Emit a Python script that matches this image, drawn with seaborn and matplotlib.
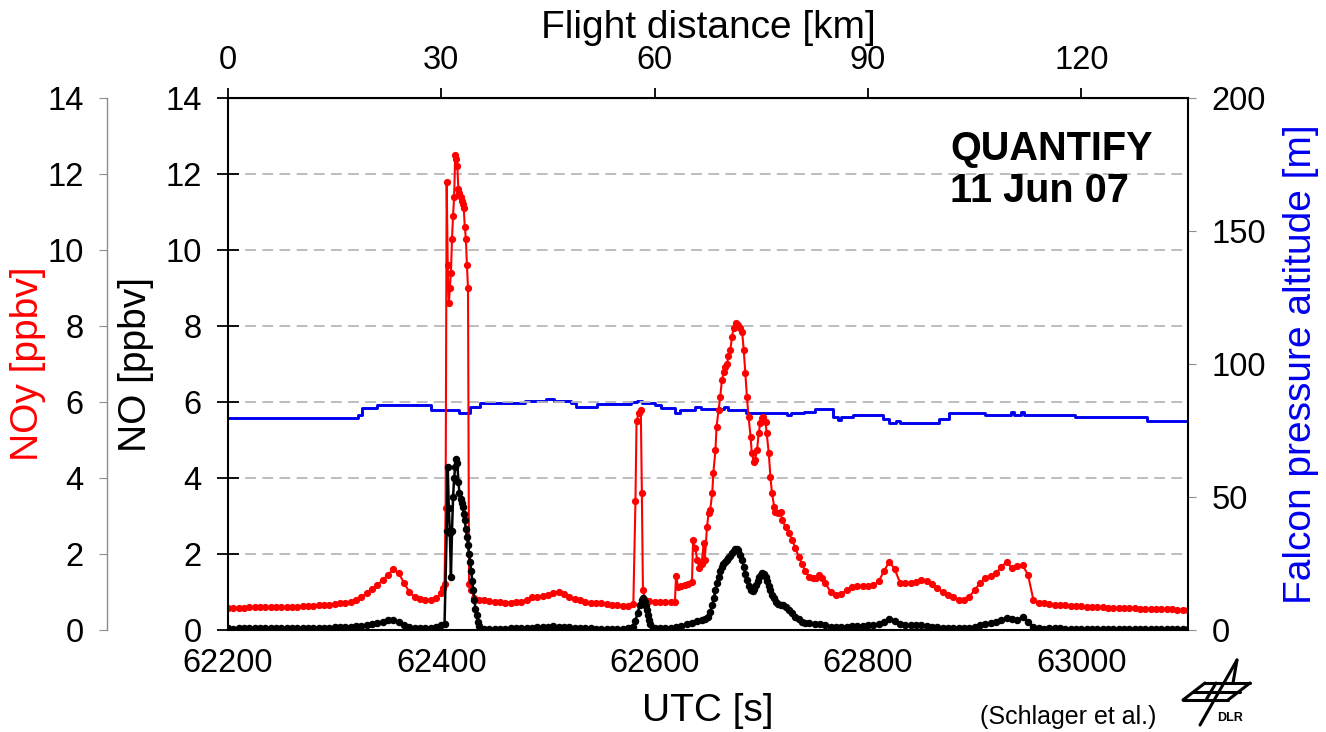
import numpy as np
import matplotlib
matplotlib.use('Agg')
import matplotlib.pyplot as plt
from matplotlib.lines import Line2D
import seaborn as sns

# ---- values ----
# NOy [ppbv] (red), pieces on a 5 s grid plus the plume spikes
noy_t1 = np.arange(62200, 62401, 5)
noy_v1 = [0.58, 0.58, 0.59, 0.59, 0.60, 0.60, 0.60, 0.60, 0.61, 0.61, 0.61, 0.60, 0.60, 0.61,
          0.62, 0.63, 0.64, 0.65, 0.66, 0.67, 0.68, 0.70, 0.72, 0.75, 0.79, 0.86, 0.97, 1.07,
          1.18, 1.31, 1.45, 1.60, 1.50, 1.24, 1.00, 0.87, 0.81, 0.79, 0.79, 0.84, 0.97]
noy_t2 = [62402, 62403, 62404, 62405, 62406, 62407, 62408, 62409, 62410, 62411, 62412, 62413,
          62414, 62415, 62416, 62417, 62418, 62419, 62420, 62421, 62422, 62423, 62424, 62425,
          62426, 62428, 62431]
noy_v2 = [1.10, 1.20, 3.2, 11.8, 9.6, 8.6, 9.0, 9.4, 10.3, 10.9, 11.4, 12.5,
          12.4, 12.2, 11.6, 11.5, 11.4, 11.3, 11.2, 11.1, 10.6, 10.3, 9.6, 9.0,
          1.2, 1.05, 0.84]
noy_t3 = np.arange(62435, 62581, 5)
noy_v3 = [0.80, 0.78, 0.76, 0.74, 0.73, 0.72, 0.72, 0.73, 0.75, 0.79, 0.87, 0.88, 0.89, 0.93,
          0.97, 1.00, 0.94, 0.87, 0.81, 0.78, 0.75, 0.72, 0.71, 0.70, 0.68, 0.67, 0.65, 0.64,
          0.64, 0.68]
noy_t4 = [62582, 62583, 62585, 62587, 62588, 62589, 62591, 62595, 62600, 62605, 62610, 62615, 62619]
noy_v4 = [3.4, 5.5, 5.7, 5.8, 3.6, 1.05, 0.80, 0.76, 0.74, 0.73, 0.73, 0.74, 0.74]
noy_t5 = [62620, 62622, 62625, 62628, 62631, 62635, 62636, 62638, 62640, 62642, 62644, 62646,
          62647, 62649, 62650.5, 62652, 62654, 62655, 62657, 62658, 62660, 62661.5, 62663, 62665,
          62666, 62668, 62669, 62671, 62672.5, 62674, 62676, 62678, 62680, 62682, 62683.5, 62685,
          62686.5, 62688, 62690, 62691, 62693, 62694, 62696, 62697.5, 62699, 62700.5, 62702, 62704,
          62705, 62707, 62708.5, 62710, 62712, 62713, 62716, 62718, 62719.5, 62723, 62726, 62729,
          62732, 62735, 62738, 62741, 62745, 62748, 62751, 62754, 62757, 62760]
noy_v5 = [1.42, 1.14, 1.15, 1.18, 1.22, 1.27, 2.37, 2.15, 1.84, 1.63, 1.75, 2.28,
          1.84, 2.70, 3.07, 3.16, 3.60, 4.13, 4.74, 5.35, 5.79, 6.14, 6.58, 6.80,
          6.93, 7.00, 7.20, 7.37, 7.72, 7.94, 8.07, 8.03, 7.94, 7.85, 7.37, 6.76,
          6.14, 5.61, 5.08, 4.65, 4.43, 4.47, 4.74, 5.18, 5.44, 5.58, 5.61, 5.48,
          5.18, 4.65, 4.03, 3.60, 3.25, 3.10, 3.07, 3.10, 2.90, 2.70, 2.54, 2.37,
          2.15, 1.93, 1.75, 1.55, 1.40, 1.38, 1.36, 1.44, 1.36, 1.23]
noy_t6 = np.arange(62765, 63101, 5)
noy_v6 = [1.00, 0.93, 0.95, 1.05, 1.12, 1.15, 1.16, 1.17, 1.18, 1.28, 1.55, 1.80, 1.60, 1.25,
          1.23, 1.25, 1.27, 1.32, 1.30, 1.22, 1.10, 1.00, 0.93, 0.86, 0.80, 0.80, 0.88, 1.05,
          1.23, 1.38, 1.43, 1.50, 1.65, 1.80, 1.62, 1.68, 1.71, 1.45, 0.80, 0.72, 0.70, 0.68,
          0.67, 0.66, 0.65, 0.64, 0.63, 0.62, 0.61, 0.61, 0.60, 0.60, 0.59, 0.59, 0.58, 0.58,
          0.57, 0.57, 0.56, 0.56, 0.55, 0.55, 0.54, 0.54, 0.54, 0.53, 0.53, 0.53]

# NO [ppbv] (black)
no_t1 = np.arange(62200, 62401, 5)
no_v1 = [0.04, 0.03, 0.04, 0.05, 0.04, 0.04, 0.04, 0.04, 0.04, 0.04, 0.04, 0.04, 0.04, 0.04,
         0.04, 0.05, 0.05, 0.05, 0.06, 0.06, 0.07, 0.08, 0.08, 0.09, 0.10, 0.11, 0.13, 0.15,
         0.18, 0.22, 0.26, 0.26, 0.20, 0.14, 0.09, 0.06, 0.05, 0.05, 0.06, 0.08, 0.12]
no_t2 = [62403, 62405, 62406, 62407, 62408, 62409, 62410, 62411, 62412, 62413, 62414, 62415,
         62416, 62417, 62418, 62419, 62420, 62421, 62422, 62423, 62424, 62425, 62426, 62427,
         62428, 62429, 62430, 62431, 62432, 62433, 62434, 62435, 62436]
no_v2 = [0.15, 2.6, 4.3, 3.2, 2.55, 1.4, 2.6, 3.5, 4.0, 4.3, 4.5, 4.4,
         3.9, 3.6, 3.45, 3.35, 3.25, 3.05, 2.9, 2.65, 2.45, 2.25, 2.0, 1.8,
         1.55, 1.3, 1.05, 0.8, 0.55, 0.4, 0.22, 0.1, 0.03]
no_t3 = np.arange(62440, 62576, 5)
no_v3 = [0.03, 0.03, 0.03, 0.03, 0.03, 0.04, 0.04, 0.05, 0.05, 0.06, 0.07, 0.08, 0.09, 0.10,
         0.09, 0.08, 0.07, 0.06, 0.05, 0.04, 0.04, 0.03, 0.03, 0.03, 0.03, 0.03, 0.03, 0.04]
no_t4 = [62578, 62580, 62582, 62584, 62586, 62588, 62589, 62590, 62591, 62592, 62593, 62594,
         62595, 62596, 62598, 62600, 62605, 62610, 62615, 62620, 62625, 62630, 62635, 62640,
         62644, 62647, 62650, 62652, 62654, 62655.5, 62657, 62658.5, 62660, 62661.5, 62663,
         62664.5, 62666, 62667.5, 62669, 62671, 62672.5, 62674, 62675.5, 62677, 62678.5, 62680,
         62682, 62683.5, 62685, 62686.5, 62688, 62690, 62692, 62693.5, 62695, 62696.5, 62698,
         62699.5, 62701, 62702.5, 62704, 62705.5, 62707, 62708.5, 62710, 62712, 62714, 62716,
         62718, 62720, 62723, 62726, 62729, 62732, 62735, 62738, 62741, 62745, 62750, 62755, 62760]
no_v4 = [0.05, 0.08, 0.25, 0.45, 0.65, 0.78, 0.83, 0.80, 0.74, 0.64, 0.53, 0.40,
         0.26, 0.15, 0.05, 0.04, 0.04, 0.05, 0.06, 0.08, 0.11, 0.15, 0.19, 0.23,
         0.26, 0.30, 0.35, 0.48, 0.65, 0.85, 1.05, 1.25, 1.40, 1.55, 1.67,
         1.74, 1.79, 1.84, 1.89, 1.96, 2.02, 2.08, 2.12, 2.12, 2.10, 1.97,
         1.83, 1.67, 1.48, 1.31, 1.17, 1.05, 1.03, 1.08, 1.18, 1.30, 1.40,
         1.46, 1.49, 1.48, 1.40, 1.28, 1.15, 1.04, 0.93, 0.84, 0.74, 0.69,
         0.67, 0.65, 0.60, 0.53, 0.44, 0.35, 0.28, 0.21, 0.19, 0.18, 0.17, 0.15, 0.12]
no_t5 = np.arange(62765, 63101, 5)
no_v5 = [0.09, 0.08, 0.08, 0.09, 0.10, 0.10, 0.11, 0.12, 0.13, 0.16, 0.21, 0.29, 0.25, 0.17,
         0.14, 0.13, 0.13, 0.12, 0.10, 0.08, 0.07, 0.06, 0.05, 0.05, 0.05, 0.05, 0.06, 0.09,
         0.12, 0.15, 0.18, 0.21, 0.26, 0.31, 0.28, 0.27, 0.33, 0.20, 0.08, 0.04, 0.03, 0.04,
         0.05, 0.04, 0.03, 0.03, 0.03, 0.03, 0.03, 0.03, 0.03, 0.03, 0.03, 0.03, 0.03, 0.03,
         0.03, 0.03, 0.03, 0.03, 0.03, 0.03, 0.03, 0.03, 0.03, 0.03, 0.03, 0.03]

# Falcon pressure altitude [m] (blue), step changes
alt_t = [62200, 62322, 62326, 62340, 62390, 62417, 62427, 62436, 62478, 62498, 62506, 62522,
         62526, 62546, 62578, 62583, 62588, 62600, 62606, 62619, 62624, 62638, 62643, 62665,
         62669, 62686, 62724, 62728, 62740, 62750, 62767, 62772, 62775, 62786, 62814, 62820,
         62826, 62830, 62867, 62876, 62910, 62934, 62937, 62943, 62946, 62994, 63062, 63100]
alt_m = [79.7, 81.0, 83.5, 84.6, 82.7, 81.6, 83.9, 85.3, 86.2, 86.8, 86.2, 85.3,
         84.0, 85.0, 85.8, 86.2, 85.3, 84.6, 83.5, 81.7, 82.7, 84.0, 83.1, 84.0,
         82.7, 81.7, 80.8, 81.7, 82.1, 83.0, 80.2, 79.0, 80.0, 80.8, 79.3, 78.0,
         78.7, 78.0, 79.3, 81.7, 80.8, 82.1, 80.8, 82.1, 80.8, 80.1, 78.7, 78.7]

utc_ticks = [62200, 62400, 62600, 62800, 63000]
km_ticks = [0, 30, 60, 90, 120]
ppbv_ticks = [0, 2, 4, 6, 8, 10, 12, 14]
alt_ticks = [0, 50, 100, 150, 200]

noy_t = np.concatenate([noy_t1, noy_t2, noy_t3, noy_t4, noy_t5, noy_t6])
noy_v = np.concatenate([noy_v1, noy_v2, noy_v3, noy_v4, noy_v5, noy_v6])
no_t = np.concatenate([no_t1, no_t2, no_t3, no_t4, no_t5])
no_v = np.concatenate([no_v1, no_v2, no_v3, no_v4, no_v5])

sns.set_style('white')
plt.rcParams['font.family'] = ['Liberation Sans', 'DejaVu Sans']
plt.rcParams['text.color'] = 'black'
plt.rcParams['axes.labelcolor'] = 'black'
plt.rcParams['xtick.color'] = 'black'
plt.rcParams['ytick.color'] = 'black'

BLUE = '#0000f0'
RED = '#ff0000'
GREY = '#8c8c8c'

fig = plt.figure(figsize=(13.26, 7.32), dpi=100)
ax = fig.add_axes([228 / 1326, 1 - 630 / 732, 960 / 1326, 532 / 732])
ax_alt = ax.twinx()
ax_noy = ax.twinx()
ax_alt.set_zorder(1)
ax_noy.set_zorder(2)
ax.set_zorder(3)
ax.patch.set_visible(False)

# altitude behind the trace gases
sns.lineplot(x=alt_t, y=alt_m, ax=ax_alt, color=BLUE, lw=2.1,
             drawstyle='steps-post', estimator=None)
sns.lineplot(x=noy_t, y=noy_v, ax=ax, color=RED, lw=1.5, marker='o', markersize=5.2,
             markeredgewidth=0, estimator=None, sort=False)
sns.lineplot(x=no_t, y=no_v, ax=ax, color='black', lw=1.8, marker='o', markersize=5.4,
             markeredgewidth=0, estimator=None, sort=False)

fs = 23.5
lfs = 28
ax.set_xlim(62200, 63100)
ax.set_ylim(0, 14)
ax.set_xticks(utc_ticks)
ax.set_yticks(ppbv_ticks)
ax.tick_params(axis='x', direction='out', length=7, width=1.3, labelsize=fs, pad=6)
ax.tick_params(axis='y', direction='inout', length=16, width=1.3, labelsize=fs, pad=11)
ax.yaxis.grid(True, linestyle=(0, (6, 3.5)), color='#b8b8b8', lw=1.3)
ax.set_axisbelow(True)
for s in ax.spines.values():
    s.set_color('black')
    s.set_linewidth(1.5)
ax.set_xlabel('UTC [s]', fontsize=lfs, labelpad=10)
ax.set_ylabel('NO [ppbv]', fontsize=lfs, labelpad=8)

# right axis: altitude
ax_alt.set_ylim(0, 200)
ax_alt.set_yticks(alt_ticks)
ax_alt.tick_params(axis='y', direction='out', length=6, color=GREY, labelcolor='black',
                   labelsize=fs, pad=11)
for s in ax_alt.spines.values():
    s.set_visible(False)
ax_alt.set_ylabel('Falcon pressure altitude [m]', color=BLUE, fontsize=lfs, labelpad=12)

# outer left axis: NOy
ax_noy.set_ylim(0, 14)
ax_noy.set_yticks(ppbv_ticks)
ax_noy.yaxis.set_ticks_position('left')
ax_noy.yaxis.set_label_position('left')
for name, s in ax_noy.spines.items():
    s.set_visible(name == 'left')
ax_noy.spines['left'].set_position(('outward', 87))
ax_noy.spines['left'].set_color(GREY)
ax_noy.spines['left'].set_linewidth(1.0)
ax_noy.tick_params(axis='y', direction='out', length=6, color=GREY, labelcolor='black',
                   labelsize=fs, pad=11)
ax_noy.set_ylabel('NOy [ppbv]', color=RED, fontsize=lfs, labelpad=1)

# top axis: flight distance
top = ax.secondary_xaxis('top', functions=(lambda t: (t - 62200) * 0.15,
                                           lambda d: d / 0.15 + 62200))
top.set_xticks(km_ticks)
top.tick_params(axis='x', direction='out', length=7, width=1.3, labelsize=fs, pad=9)
top.set_xlabel('Flight distance [km]', fontsize=lfs, labelpad=5)

ax.text(0.752, 0.94, 'QUANTIFY\n11 Jun 07', transform=ax.transAxes, fontsize=28.5,
        fontweight='bold', ha='left', va='top', linespacing=1.12)

fig.text(1068 / 1326, 1 - 717 / 732, '(Schlager et al.)', fontsize=18, ha='center', va='center')

# rough DLR logo
def px(x, y):
    return x / 1326, 1 - y / 732

logo = [((1183, 700), (1205, 683)), ((1205, 683), (1250, 683)), ((1250, 683), (1228, 700)),
        ((1228, 700), (1183, 700)), ((1193, 692), (1240, 692)), ((1216, 683), (1206, 700)),
        ((1237, 660), (1200, 725)), ((1237, 660), (1233, 683))]
for (a, b) in logo:
    xa, ya = px(*a)
    xb, yb = px(*b)
    fig.add_artist(Line2D([xa, xb], [ya, yb], color='black', lw=2.2))
fig.text(*px(1230, 718), 'DLR', fontsize=9, fontweight='bold', ha='center', va='center')

fig.savefig('out.png', dpi=100)
